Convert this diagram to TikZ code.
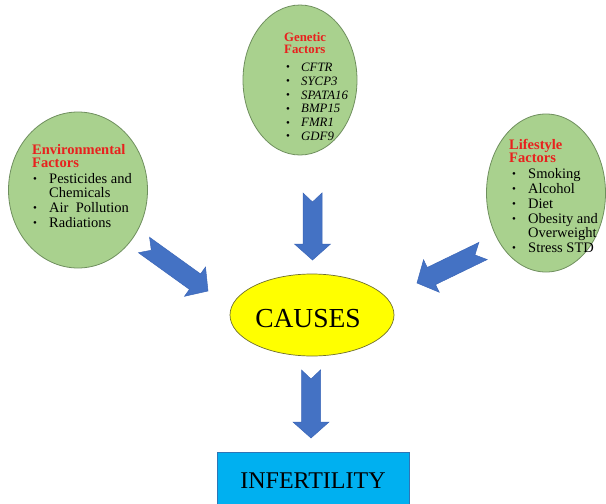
\documentclass[tikz,border=0pt]{standalone}
\usepackage{fontspec}
\setmainfont{Liberation Serif}
\usetikzlibrary{shapes.geometric,calc}
\definecolor{leafgreen}{HTML}{A9D18E}
\definecolor{leafedge}{HTML}{6F8F5E}
\definecolor{titlered}{HTML}{E8211E}
\definecolor{arrowblue}{HTML}{4472C4}
\definecolor{arrowedge}{HTML}{3B66B8}
\definecolor{causeyellow}{HTML}{FFFF00}
\definecolor{causeedge}{HTML}{6F6F30}
\definecolor{boxblue}{HTML}{00B0F0}
\definecolor{boxedge}{HTML}{2E75B6}
\newcommand\bulmark[2]{\makebox[#2][l]{\hspace*{#1}{\fontsize{11}{11}\selectfont\raisebox{0.8pt}{•}}}}
\newcommand\blockarrow[2]{%
  \path ($(#2)!16pt!(#1)$) coordinate (ba-base);
  \filldraw[blockarr]
    ($(#1)!9.5pt!90:(#2)$) -- ($(#1)!9pt!(#2)$) -- ($(#1)!9.5pt!-90:(#2)$)
    -- ($(ba-base)!9.5pt!-90:(#2)$) -- ($(ba-base)!18pt!-90:(#2)$) -- (#2)
    -- ($(ba-base)!18pt!90:(#2)$) -- ($(ba-base)!9.5pt!90:(#2)$) -- cycle;}
\tikzset{
  leaf/.style={ellipse, fill=leafgreen, draw=leafedge, line width=0.8pt, inner sep=0pt},
  listtext/.style={anchor=base west, inner sep=0pt, font=\fontsize{14.5}{14.8}\selectfont},
  blockarr/.style={fill=arrowblue, draw=arrowedge, line width=0.5pt, line join=miter},
}
\begin{document}
\begin{tikzpicture}[x=1pt,y=-1pt]
\useasboundingbox (0,0) rectangle (606,504);
\clip (0,0) rectangle (606,504);
\fill[white] (0,0) rectangle (606,504);

% ellipses
\node[leaf, minimum width=139pt, minimum height=156pt] (env) at (78,190) {};
\node[leaf, minimum width=114pt, minimum height=150pt] (gen) at (300,80) {};
\node[leaf, minimum width=119pt, minimum height=158pt] (life) at (546,193) {};

% texts
\node[listtext] (envtext) at (32,144) {\parbox[t]{150pt}{\raggedright
  {\color{titlered}\bfseries Environmental\\[-1.3pt] Factors}\\[0.7pt]
  \bulmark{1pt}{17pt}Pesticides and\\
  \hspace*{17pt}Chemicals\\
  \bulmark{1pt}{17pt}Air \ Pollution\\
  \bulmark{1pt}{17pt}Radiations}};
\node[listtext, font=\fontsize{12.8}{13.9}\selectfont] (gentext) at (284,33) {\parbox[t]{150pt}{\raggedright
  {\color{titlered}\bfseries Genetic\\[-1.9pt] Factors}\\[3.5pt]
  \bulmark{2pt}{17pt}\textit{CFTR}\\
  \bulmark{2pt}{17pt}\textit{SYCP3}\\
  \bulmark{2pt}{17pt}\textit{SPATA16}\\
  \bulmark{2pt}{17pt}\textit{BMP15}\\
  \bulmark{2pt}{17pt}\textit{FMR1}\\
  \bulmark{2pt}{17pt}\textit{GDF9}}};
\node[listtext] (lifetext) at (509,139) {\parbox[t]{150pt}{\raggedright
  {\color{titlered}\bfseries Lifestyle\\[-1.3pt] Factors}\\[1.2pt]
  \bulmark{3pt}{19pt}Smoking\\
  \bulmark{3pt}{19pt}Alcohol\\
  \bulmark{3pt}{19pt}Diet\\
  \bulmark{3pt}{19pt}Obesity and\\
  \hspace*{19pt}Overweight\\
  \bulmark{3pt}{19pt}Stress STD}};

% causes
\node[ellipse, fill=causeyellow, draw=causeedge, line width=0.7pt, inner sep=0pt,
      minimum width=164pt, minimum height=82pt] (causes) at (312,315) {};
\node[inner sep=0pt, font=\fontsize{27.5}{27.5}\selectfont, anchor=base] (causetext) at (308,327) {CAUSES};

% infertility
\node[rectangle, fill=boxblue, draw=boxedge, line width=0.7pt, anchor=north,
      minimum width=192pt, minimum height=64pt, inner sep=0pt] (infbox) at (313,452) {};
\node[inner sep=0pt, font=\fontsize{24}{24}\selectfont, anchor=base] (inftext) at (313,488) {INFERTILITY};

% arrow end points
\coordinate (genA) at (312.5,193);
\coordinate (genB) at (312.5,260);
\coordinate (envA) at (144,245);
\coordinate (envB) at (208,291);
\coordinate (lifeA) at (483,251);
\coordinate (lifeB) at (417,283);
\coordinate (causeA) at (311,370);
\coordinate (causeB) at (311,438);

\blockarrow{genA}{genB}
\blockarrow{envA}{envB}
\blockarrow{lifeA}{lifeB}
\blockarrow{causeA}{causeB}
\end{tikzpicture}
\end{document}
